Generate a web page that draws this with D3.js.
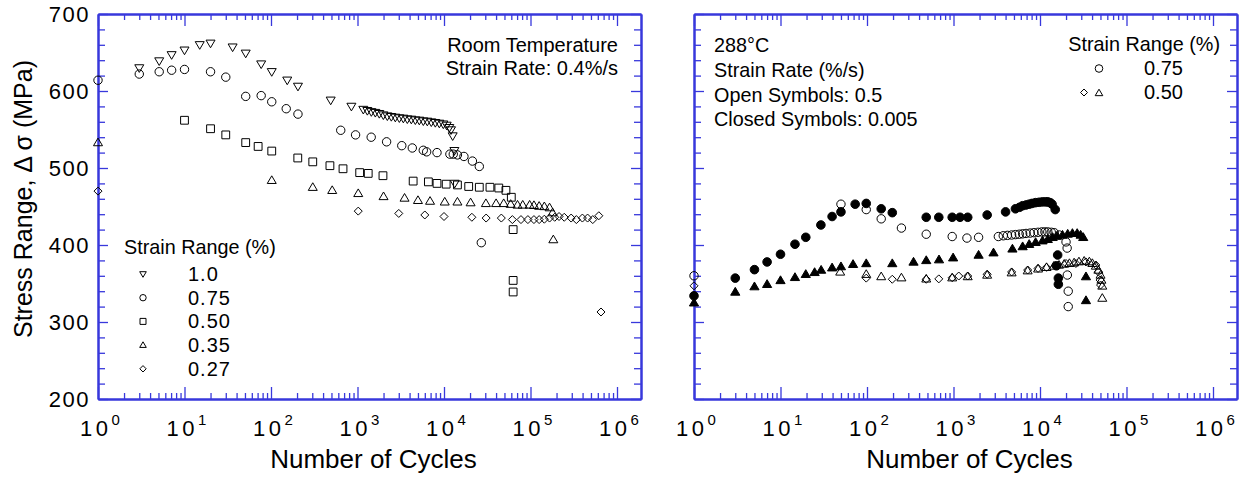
<!DOCTYPE html>
<html>
<head>
<meta charset="utf-8">
<script src="https://cdn.jsdelivr.net/npm/d3@7"></script>
<style>
body { margin: 0; background: #fff; }
text { font-family: "Liberation Sans", Arial, Helvetica, sans-serif; fill: #000; }
</style>
</head>
<body>
<svg id="chart" width="1241" height="477"></svg>
<script>
// ---- data: [cycles, stress range MPa] ----
// room temperature, 0.4%/s
var rt100 = [[3,630],[5.1,639],[7.1,647],[10,653],[15,660],[20,662],[36,657],[51,649],[77,635],[102,625],[154,614],[205,606],[490,588],[850,580],
  [1167,576],[1300,574.5],[1445,573],[1607,572],[1787,570.6],[1990,568.8],[2213,567.5],[2460,566.7],[2737,565.8],[3046,565],[3388,564.5],[3767,563.6],
  [4189,563.2],[4662,562.3],[5185,561.9],[5767,561],[6413,560.6],[7133,559.7],[7937,558.9],[8828,558],[9818,557],[10740,555.4],[11510,552.4],[12050,549.4],
  [12600,541.6],[13180,522.5],[13300,480]];
var rt075 = [[1,614],[3,622],[5.1,625],[7.1,627],[10,628],[20,625],[30,618],[51,593],[77,594],[102,586],[150,577],[205,570],[640,549],[950,543],
  [1440,540],[2170,534],[3250,529],[4300,526],[5760,523],[6300,521],[8300,520],[11700,518],[12800,518],[14300,517],[17000,515],[21300,509],[25600,502],[27000,403]];
var rt050 = [[10,562],[20,551],[30,543],[51,533],[71,528],[102,522],[204,513],[304,508],[480,503],[680,499],[1060,494],[1330,493],[1970,490],[4400,483],
  [6600,482],[8300,480],[10600,479],[14300,478],[19300,476],[25600,475],[34000,475],[43000,474],[52000,471],[60000,462],[63000,420],[63000,354],[63000,339]];
var rt035 = [[1,533],[102,484],[304,475],[510,471],[1020,467],[2000,463],[3500,461],[5000,458],[6900,457],[10200,456],[14300,456],[20300,455],[30500,454],
  [40000,454],[49000,454],[59000,453],[70800,452],[81300,452],[97700,452],[109600,451.5],[125900,450.5],[144500,450],[166000,448.5],[180000,442],[183600,407]];
var rt027 = [[1,470],[1020,444],[3000,441],[6000,439],[10000,437],[21000,436],[30700,435],[46000,435],[61700,433],[77600,433],[93300,433],[109600,433],
  [125900,433],[144500,433.5],[166000,435],[190500,436],[213800,437],[245500,436],[295100,435],[338800,433],[398100,435],[457100,435],[524800,433],
  [616600,438],[653000,313]];

// 288 C, open = 0.5 %/s, closed = 0.005 %/s
var ht075slow = [[1,334],[3,357],[5,368],[7,378],[10,388],[14.7,401],[19.6,410],[29.3,426],[39.5,437],[50,443],[73,453],[98,454],[146,447],[196,442],
  [484,436],[676,436],[966,436],[1190,436],[1460,436],[2450,439],[4000,443],[5200,447],[5800,449],[6300,451],[6900,452],[7500,453],[8100,454],
  [8900,455],[9800,455.5],[10700,456],[11600,456],[12300,456],[13100,455],[13800,453],[15000,446],[16000,387],[15500,373],[16300,357],[16300,349]];
var ht075fast = [[1,360],[50,453],[98,446],[146,434],[250,422],[484,414],[966,411],[1430,409],[1950,410],[3300,411],[3760,412],[4200,412.5],[4700,413],
  [5200,413.5],[5760,414],[6300,414.5],[6900,415],[7700,415.5],[8500,416],[9500,416.5],[10500,417],[11400,417],[12300,417],[13500,416.5],[14600,416],
  [16700,413],[20000,404],[20600,396],[20700,361],[21200,340],[21200,320]];
var ht050slow = [[1,325],[3,339],[5,346],[7,349],[10,354],[14.7,358],[19.6,362],[24.8,364.5],[29.5,367.5],[39.5,370.5],[50,372],[69,375],[98,376],
  [196,376],[345,378],[484,380],[680,381],[990,383.5],[1950,387],[2900,390],[4800,395],[6300,398],[7500,401],[8900,403.5],[10700,405.6],[12300,407.4],
  [14000,410],[15800,411.7],[18200,413],[20900,414.3],[23700,415.2],[26900,415.2],[29500,413],[31600,410],[34000,359],[34000,328]];
var ht050fast = [[49,365],[98,362],[146,359],[250,357.5],[484,356],[966,357.5],[1460,359],[2450,361],[4700,364],[7200,366.6],[9500,369],[11900,371],
  [14450,372.7],[16600,374],[19050,375.3],[21900,376.2],[24800,377],[28200,378.3],[32400,379.2],[37200,378.3],[40300,376.2],[44200,372.7],[47300,367.5],
  [50100,361],[51300,354.5],[52500,346.8],[52500,331]];
var ht050diam = [[1,347],[98,357],[196,355.5],[484,355.5],[676,356],[966,357.5],[1150,359.7],[1460,359.7],[2450,362],[4700,365],[7200,367.5],[9500,369.6],
  [11900,371],[15100,372.7],[20000,376],[26000,376],[33900,378],[44200,374],[47300,365],[49500,354.5],[50100,348]];

var xMajor = [1, 10, 100, 1e3, 1e4, 1e5, 1e6];
var xLabels = ["0", "1", "2", "3", "4", "5", "6"];
var yMajor = [200, 300, 400, 500, 600, 700];
var leftLegend = ["1.0", "0.75", "0.50", "0.35", "0.27"];

// ---- layout ----
var svg = d3.select("#chart");
var plotTop = 14, plotBottom = 399, decade = 86.5;
var axisColor = "#3838dc";
var xMax = Math.pow(10, 543 / decade);

var xMinor = [];
for (var k = 0; k < 7; k++) {
    for (var m = 2; m <= 9; m++) {
        var v = m * Math.pow(10, k);
        if (v < xMax) xMinor.push(v);
    }
}
var yMinor = d3.range(220, 700, 20).filter(function(d) { return d % 100 !== 0; });

function symbolPath(shape, s) {
    if (shape == "triUp") return "M0," + (-s) + "L" + s + "," + (s * 0.7) + "L" + (-s) + "," + (s * 0.7) + "Z";
    if (shape == "triDown") return "M0," + s + "L" + s + "," + (-s * 0.7) + "L" + (-s) + "," + (-s * 0.7) + "Z";
    if (shape == "square") return "M" + (-s) + "," + (-s) + "H" + s + "V" + s + "H" + (-s) + "Z";
    if (shape == "diamond") return "M0," + (-s) + "L" + s + ",0L0," + s + "L" + (-s) + ",0Z";
    // circle
    return "M" + (-s) + ",0A" + s + "," + s + " 0 1,0 " + s + ",0A" + s + "," + s + " 0 1,0 " + (-s) + ",0Z";
}

function drawSeries(g, x, y, data, shape, filled, s) {
    g.append("g").selectAll("path")
        .data(data).enter().append("path")
        .attr("transform", function(d) { return "translate(" + x(d[0]) + "," + y(d[1]) + ")"; })
        .attr("d", symbolPath(shape, s))
        .attr("fill", filled ? "#000" : "none")
        .attr("stroke", "#000")
        .attr("stroke-width", 1);
}

function marker(shape, filled, s, cx, cy) {
    svg.append("path")
        .attr("transform", "translate(" + cx + "," + cy + ")")
        .attr("d", symbolPath(shape, s))
        .attr("fill", filled ? "#000" : "none")
        .attr("stroke", "#000")
        .attr("stroke-width", 1);
}

function styleAxis(sel) {
    sel.select(".domain").attr("stroke", axisColor).attr("stroke-width", 2);
    sel.selectAll(".tick line").attr("stroke", axisColor).attr("stroke-width", 1.3);
    sel.selectAll(".tick text").remove();
}

function makePanel(left, right, withLabels) {
    var x = d3.scaleLog().domain([1, xMax]).range([left, right]);
    var y = d3.scaleLinear().domain([200, 700]).range([plotBottom, plotTop]);

    var axes = [
        [d3.axisBottom, "translate(0," + plotBottom + ")", x, 12, 6, xMajor, xMinor],
        [d3.axisTop, "translate(0," + plotTop + ")", x, 12, 6, xMajor, xMinor],
        [d3.axisLeft, "translate(" + left + ",0)", y, 10, 7, yMajor, yMinor],
        [d3.axisRight, "translate(" + right + ",0)", y, 10, 7, yMajor, yMinor]
    ];
    axes.forEach(function(a) {
        svg.append("g").attr("transform", a[1])
            .call(a[0](a[2]).tickValues(a[6]).tickSizeInner(-a[4]).tickSizeOuter(0).tickFormat(""))
            .call(styleAxis);
        svg.append("g").attr("transform", a[1])
            .call(a[0](a[2]).tickValues(a[5]).tickSizeInner(-a[3]).tickSizeOuter(0).tickFormat(""))
            .call(styleAxis);
    });

    // x tick labels 10^n
    xMajor.forEach(function(v, i) {
        var t = svg.append("text")
            .attr("x", x(v) + 2)
            .attr("y", 436)
            .attr("text-anchor", "middle")
            .style("font-size", "22px");
        t.append("tspan").text("10").style("letter-spacing", "3.5px");
        t.append("tspan").text(xLabels[i]).attr("dy", -11).style("font-size", "15px");
    });

    if (withLabels) {
        yMajor.forEach(function(v) {
            svg.append("text")
                .attr("x", 90)
                .attr("y", y(v))
                .attr("dy", "0.36em")
                .attr("text-anchor", "end")
                .style("font-size", "22px")
                .style("letter-spacing", "1.5px")
                .text(v);
        });
    }

    svg.append("text")
        .attr("x", (left + right) / 2 + 4)
        .attr("y", 468)
        .attr("text-anchor", "middle")
        .style("font-size", "26px")
        .text("Number of Cycles");

    return { x: x, y: y, g: svg.append("g") };
}

var p1 = makePanel(98, 641, true);
var p2 = makePanel(694, 1237, false);

svg.append("text")
    .attr("transform", "translate(32,199) rotate(-90)")
    .attr("text-anchor", "middle")
    .style("font-size", "25px")
    .text("Stress Range, \u0394 \u03c3 (MPa)");

// left panel points
drawSeries(p1.g, p1.x, p1.y, rt100, "triDown", false, 4.5);
drawSeries(p1.g, p1.x, p1.y, rt075, "circle", false, 4.2);
drawSeries(p1.g, p1.x, p1.y, rt050, "square", false, 3.9);
drawSeries(p1.g, p1.x, p1.y, rt035, "triUp", false, 4.5);
drawSeries(p1.g, p1.x, p1.y, rt027, "diamond", false, 4);

// right panel points
drawSeries(p2.g, p2.x, p2.y, ht075fast, "circle", false, 4.2);
drawSeries(p2.g, p2.x, p2.y, ht050diam, "diamond", false, 4);
drawSeries(p2.g, p2.x, p2.y, ht050fast, "triUp", false, 4.5);
drawSeries(p2.g, p2.x, p2.y, ht075slow, "circle", true, 4.3);
drawSeries(p2.g, p2.x, p2.y, ht050slow, "triUp", true, 4.6);

// left annotations
svg.append("text").attr("x", 618).attr("y", 52).attr("text-anchor", "end")
    .style("font-size", "20px").text("Room Temperature");
svg.append("text").attr("x", 618).attr("y", 75).attr("text-anchor", "end")
    .style("font-size", "20px").text("Strain Rate: 0.4%/s");

svg.append("text").attr("x", 124).attr("y", 254)
    .style("font-size", "19.8px").text("Strain Range (%)");
var legShapes = ["triDown", "circle", "square", "triUp", "diamond"];
var legSize = [3.3, 3.2, 3, 3.3, 3.2];
leftLegend.forEach(function(lab, i) {
    var cy = 274 + i * 23.7;
    marker(legShapes[i], false, legSize[i], 143, cy);
    svg.append("text").attr("x", 188).attr("y", cy + 7)
        .style("font-size", "20px").style("letter-spacing", "1px").text(lab);
});

// right annotations
["288\u00b0C", "Strain Rate (%/s)", "Open Symbols: 0.5", "Closed Symbols: 0.005"].forEach(function(t, i) {
    svg.append("text").attr("x", 714).attr("y", 52 + i * 24.8)
        .style("font-size", "19.8px").text(t);
});
svg.append("text").attr("x", 1220).attr("y", 51).attr("text-anchor", "end")
    .style("font-size", "19.8px").text("Strain Range (%)");
marker("circle", false, 3.8, 1099, 68.5);
svg.append("text").attr("x", 1144).attr("y", 75).style("font-size", "20px").text("0.75");
marker("diamond", false, 3.5, 1084, 92.5);
marker("triUp", false, 3.8, 1099, 93);
svg.append("text").attr("x", 1144).attr("y", 99).style("font-size", "20px").text("0.50");
</script>
</body>
</html>
